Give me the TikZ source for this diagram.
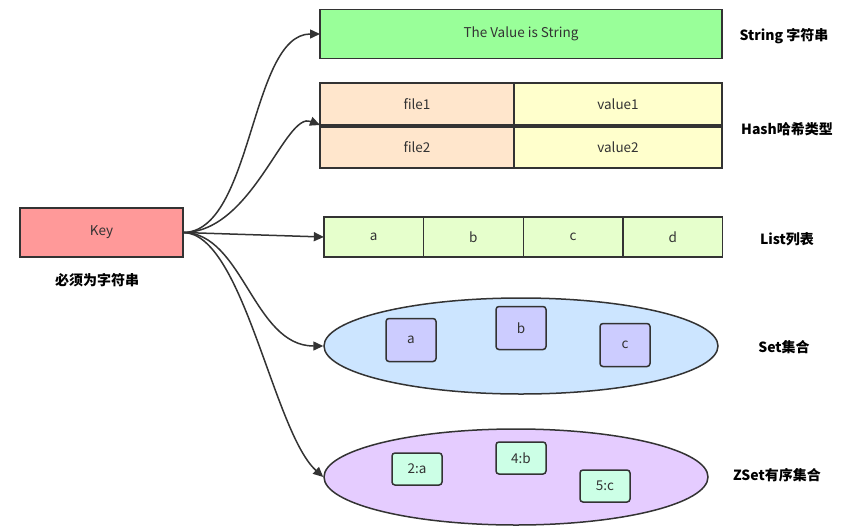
\documentclass[tikz,border=0pt]{standalone}
\usepackage{fontspec}
\setmainfont{Noto Sans CJK SC}
\usetikzlibrary{arrows.meta, shapes.geometric}
\definecolor{edgegray}{HTML}{333333}
\definecolor{textgray}{HTML}{333333}
\definecolor{keyred}{HTML}{FF9999}
\definecolor{strgreen}{HTML}{99FF99}
\definecolor{fieldpeach}{HTML}{FFE6CC}
\definecolor{valyellow}{HTML}{FFFFCC}
\definecolor{listgreen}{HTML}{E6FFCC}
\definecolor{setblue}{HTML}{CCE5FF}
\definecolor{setitem}{HTML}{CCCCFF}
\definecolor{zsetpurple}{HTML}{E5CCFF}
\definecolor{zsetitem}{HTML}{CCFFE6}

\begin{document}
\begin{tikzpicture}[x=1pt, y=-1pt,
  box/.style={draw=edgegray, line width=1.5pt, text=textgray, inner sep=0pt, outer sep=0pt,
    font=\fontsize{13.5}{15}\selectfont},
  item/.style={box, rounded corners=3pt},
  tag/.style={font=\bfseries\fontsize{14}{16}\selectfont, text=black},
  link/.style={draw=edgegray, line width=1.5pt, -{Triangle[length=10pt,width=9pt]}}]
\useasboundingbox[fill=white] (0,0) rectangle (860,531);

\node[box, fill=keyred, minimum width=163pt, minimum height=49pt] (key) at (101.5,232.5) {Key};
\node[tag] (keytag) at (97,280) {必须为字符串};

% string
\node[box, fill=strgreen, minimum width=402pt, minimum height=49pt] (str) at (521,34) {The Value is String};
\node[tag] (strtag) at (784,36) {String 字符串};

% hash
\node[box, fill=fieldpeach, minimum width=194pt, minimum height=42pt] (f1) at (417,104) {file1};
\node[box, fill=valyellow, minimum width=208pt, minimum height=42pt] (v1) at (618,104) {value1};
\node[box, fill=fieldpeach, minimum width=194pt, minimum height=41pt] (f2) at (417,147.5) {file2};
\node[box, fill=valyellow, minimum width=208pt, minimum height=41pt] (v2) at (618,147.5) {value2};
\node[tag] (hashtag) at (787,129) {Hash哈希类型};

% list
\foreach \t [count=\i] in {a,b,c,d}
  \node[box, fill=listgreen, minimum width=99.7pt, minimum height=40pt] (l\i) at (274+99.7*\i,237) {\t};
\node[tag] (listtag) at (787,239) {List列表};

% set
\node[ellipse, draw=edgegray, line width=1.5pt, fill=setblue, inner sep=0pt, minimum width=394pt, minimum height=96pt] (set) at (521,346) {};
\node[item, fill=setitem, minimum width=50pt, minimum height=43pt] (sa) at (411,340) {a};
\node[item, fill=setitem, minimum width=50pt, minimum height=43pt] (sb) at (521,328) {b};
\node[item, fill=setitem, minimum width=50pt, minimum height=43pt] (sc) at (625,345) {c};
\node[tag] (settag) at (784,347) {Set集合};

% zset
\node[ellipse, draw=edgegray, line width=1.5pt, fill=zsetpurple, inner sep=0pt, minimum width=384pt, minimum height=96pt] (zset) at (516,477) {};
\node[item, fill=zsetitem, minimum width=50pt, minimum height=32pt] (za) at (417,469) {2:a};
\node[item, fill=zsetitem, minimum width=50pt, minimum height=32pt] (zb) at (521,458) {4:b};
\node[item, fill=zsetitem, minimum width=50pt, minimum height=32pt] (zc) at (605,486) {5:c};
\node[tag] (zsettag) at (777,475) {ZSet有序集合};

\draw[link] (key.east) .. controls +(70,0) and +(-70,0) .. (str.west);
\draw[link] (key.east) .. controls +(70,0) and +(-35,-14) .. (f1.south west);
\draw[link] (key.east) -- (l1.west);
\draw[link] (key.east) .. controls +(60,0) and +(-70,0) .. (set.west);
\draw[link] (key.east) .. controls +(60,0) and +(-50,-45) .. (zset.west);
\end{tikzpicture}
\end{document}
